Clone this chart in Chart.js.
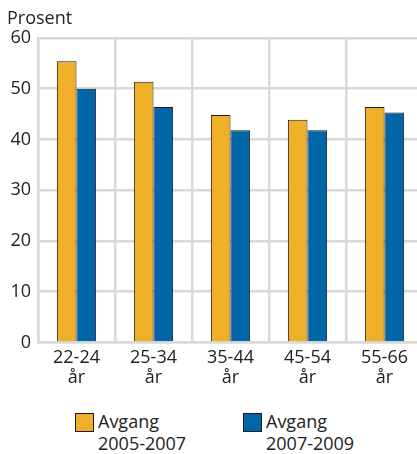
<!DOCTYPE html>
<html>
<head>
<meta charset="utf-8">
<script src="https://cdn.jsdelivr.net/npm/chart.js@4"></script>
<style>
  body { margin: 0; background: #fff; font-family: "Open Sans", sans-serif; }
  #wrap { position: relative; width: 417px; height: 454px; overflow: hidden; }
  #legend { position: absolute; left: 0; top: 410px; width: 417px; }
  .item { position: absolute; top: 0; display: flex; align-items: flex-start; color: #222; font-size: 18px; line-height: 22px; }
  .box { width: 17px; height: 17px; border: 1px solid #1a1a1a; margin-right: 4px; margin-top: 3px; }
</style>
</head>
<body>
<div id="wrap">
  <canvas id="c" width="423" height="394"></canvas>
  <div id="legend"></div>
</div>
<script>
const categories = [['22-24', 'år'], ['25-34', 'år'], ['35-44', 'år'], ['45-54', 'år'], ['55-66', 'år']];
const avgang0507 = [55.4, 51.4, 44.8, 43.9, 46.4];
const avgang0709 = [50.0, 46.4, 41.8, 41.8, 45.3];
const seriesNames = [['Avgang', '2005-2007'], ['Avgang', '2007-2009']];
const seriesColors = ['#F0AF29', '#0066A6'];
const yTicks = [0, 10, 20, 30, 40, 50, 60];

const gridColor = '#d9d9d9';

// "Prosent" unit label above the y axis
const unitLabel = {
    id: 'unitLabel',
    afterDraw(chart) {
        const ctx = chart.ctx;
        ctx.save();
        ctx.font = '18px "Open Sans"';
        ctx.fillStyle = '#222';
        ctx.textBaseline = 'alphabetic';
        ctx.fillText('Prosent', 7, 24);
        ctx.restore();
    }
};

new Chart(document.getElementById('c').getContext('2d'), {
    type: 'bar',
    data: {
        labels: categories,
        datasets: [0, 1].map(i => ({
            label: seriesNames[i].join(' '),
            data: i === 0 ? avgang0507 : avgang0709,
            backgroundColor: seriesColors[i],
            borderColor: '#1a1a1a',
            borderWidth: 1,
            categoryPercentage: 0.51,
            barPercentage: 1.0
        }))
    },
    options: {
        responsive: false,
        animation: false,
        layout: { padding: { top: 38, right: 0, left: 0, bottom: 0 } },
        plugins: {
            legend: { display: false },
            tooltip: { enabled: false }
        },
        scales: {
            x: {
                grid: { color: gridColor, lineWidth: 2.5, drawTicks: false },
                border: { color: gridColor, width: 2.5 },
                ticks: {
                    color: '#222',
                    font: { family: 'Open Sans', size: 18, lineHeight: 1.1 },
                    padding: 6,
                    maxRotation: 0
                }
            },
            y: {
                min: 0,
                max: 60,
                afterBuildTicks: s => { s.ticks = yTicks.map(v => ({ value: v })); },
                afterFit: s => { s.width = 38; },
                grid: { color: gridColor, lineWidth: 2.5, drawTicks: false },
                border: { color: gridColor, width: 2.5 },
                ticks: {
                    color: '#222',
                    font: { family: 'Open Sans', size: 18 },
                    padding: 7
                }
            }
        }
    },
    plugins: [unitLabel]
});

// two-line legend under the chart
const legend = document.getElementById('legend');
const lefts = [75, 243];
seriesNames.forEach((name, i) => {
    const item = document.createElement('div');
    item.className = 'item';
    item.style.left = lefts[i] + 'px';
    item.innerHTML = '<div class="box" style="background:' + seriesColors[i] + '"></div><div>' + name.join('<br>') + '</div>';
    legend.appendChild(item);
});
</script>
</body>
</html>
